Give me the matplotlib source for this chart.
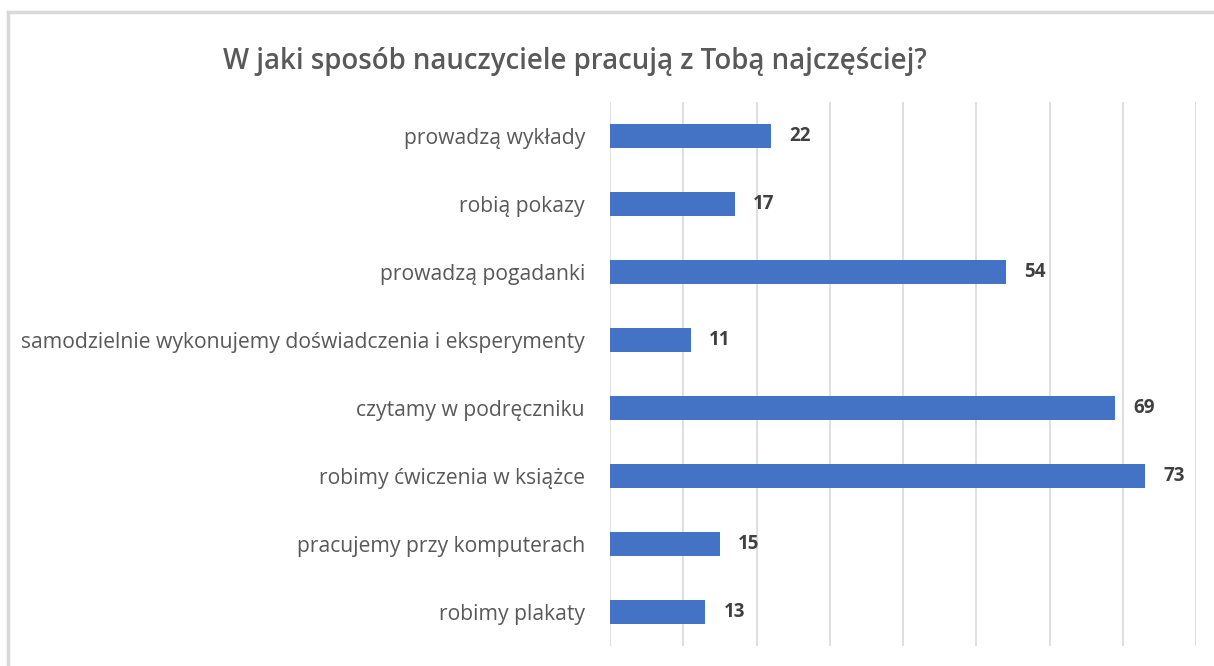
import matplotlib
matplotlib.use('Agg')
import matplotlib.pyplot as plt
from matplotlib.lines import Line2D

# survey answers, top to bottom as in the chart
categories = [
    'prowadzą wykłady',
    'robią pokazy',
    'prowadzą pogadanki',
    'samodzielnie wykonujemy doświadczenia i eksperymenty',
    'czytamy w podręczniku',
    'robimy ćwiczenia w książce',
    'pracujemy przy komputerach',
    'robimy plakaty',
]
values = [22, 17, 54, 11, 69, 73, 15, 13]
title = 'W jaki sposób nauczyciele pracują z Tobą najczęściej?'

plt.rcParams['font.family'] = ['Open Sans', 'DejaVu Sans']

fig = plt.figure(figsize=(12.14, 6.66), dpi=100)
ax = fig.add_axes([0.5025, 0.030, 0.4827, 0.8168])

ypos = list(range(len(categories)))
ax.barh(ypos, values, height=0.35, color='#4472C4', zorder=3)
ax.set_ylim(len(categories) - 0.5, -0.5)
ax.set_xlim(0, 80)
ax.set_xticks(range(0, 81, 10))
ax.set_xticklabels([])
ax.tick_params(axis='x', length=0)
ax.tick_params(axis='y', length=0, pad=18)
ax.set_yticks(ypos)
ax.set_yticklabels(categories, fontsize=15.2, color='#595959')
ax.grid(axis='x', color='#d9d9d9', lw=1.2, zorder=0)
for s in ax.spines.values():
    s.set_visible(False)

for y, v in zip(ypos, values):
    ax.text(v + 2.5, y, str(v), va='center', ha='left', fontsize=13.5,
            fontweight='bold', color='#404040')

fig.text(0.474, 0.907, title, ha='center', va='center', fontsize=19.9,
         fontweight='semibold', color='#595959')

# light frame of the chart area (cut at right and bottom)
fig.add_artist(Line2D([8 / 1214, 8 / 1214], [0, 1 - 12 / 666],
                      transform=fig.transFigure, color='#d9d9d9', lw=2.5))
fig.add_artist(Line2D([8 / 1214, 1], [1 - 12 / 666, 1 - 12 / 666],
                      transform=fig.transFigure, color='#d9d9d9', lw=2.5))

fig.savefig('out.png', dpi=100, facecolor='white')
